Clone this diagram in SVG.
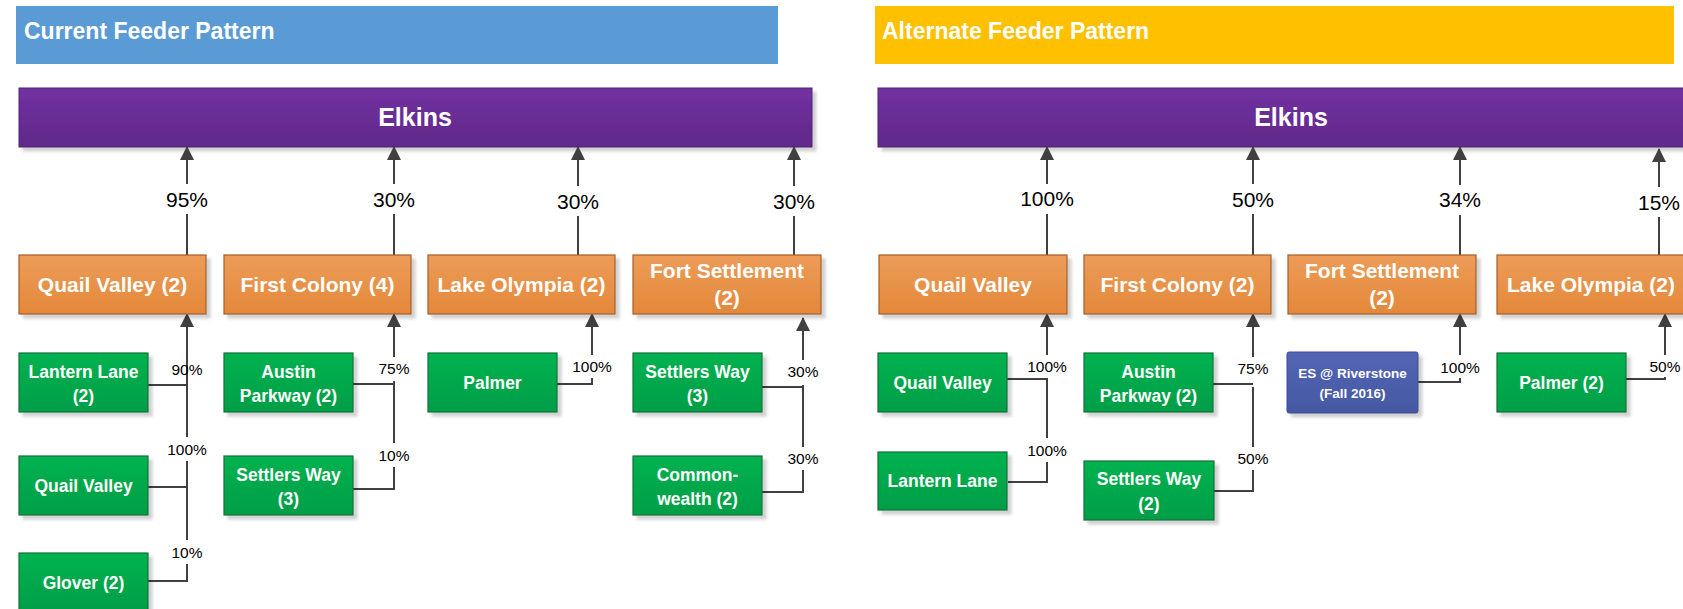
<svg xmlns="http://www.w3.org/2000/svg" width="1683" height="609" viewBox="0 0 1683 609">
<defs>
<linearGradient id="gP" x1="0" y1="0" x2="0" y2="1"><stop offset="0" stop-color="#7131A1"/><stop offset="1" stop-color="#61298A"/></linearGradient>
<linearGradient id="gO" x1="0" y1="0" x2="0" y2="1"><stop offset="0" stop-color="#EC9C58"/><stop offset="1" stop-color="#E4883A"/></linearGradient>
<linearGradient id="gG" x1="0" y1="0" x2="0" y2="1"><stop offset="0" stop-color="#00B24F"/><stop offset="1" stop-color="#009E47"/></linearGradient>
<linearGradient id="gB" x1="0" y1="0" x2="0" y2="1"><stop offset="0" stop-color="#5465B5"/><stop offset="1" stop-color="#4558A2"/></linearGradient>
<filter id="sh" x="-10%" y="-10%" width="130%" height="140%"><feDropShadow dx="4" dy="4" stdDeviation="1.5" flood-color="#000" flood-opacity="0.18"/></filter>
<marker id="arr" viewBox="0 0 14 14" markerWidth="14" markerHeight="14" refX="13" refY="7" orient="auto" markerUnits="userSpaceOnUse"><path d="M0,0 L14,7 L0,14 Z" fill="#404040"/></marker>
</defs>
<style>
.hdr{font-family:"Liberation Sans",Arial,sans-serif;font-weight:bold;font-size:23px;fill:#fff}
.elk{fill:url(#gP);stroke:#4E2274;stroke-width:1;filter:url(#sh)}
.elkt{font-family:"Liberation Sans",Arial,sans-serif;font-weight:bold;font-size:25px;fill:#fff;text-anchor:middle}
.or{fill:url(#gO);stroke:#A45E2A;stroke-width:1.2;filter:url(#sh)}
.ort{font-family:"Liberation Sans",Arial,sans-serif;font-weight:bold;font-size:21px;fill:#fff;text-anchor:middle}
.gr{fill:url(#gG);stroke:#17703A;stroke-width:1.2;filter:url(#sh)}
.bl{fill:url(#gB);stroke:#3A4C92;stroke-width:1;filter:url(#sh)}
.grt{font-family:"Liberation Sans",Arial,sans-serif;font-weight:bold;font-size:17.5px;fill:#fff;text-anchor:middle}
.blt{font-family:"Liberation Sans",Arial,sans-serif;font-weight:bold;font-size:13.5px;fill:#fff;text-anchor:middle}
.ln{fill:none;stroke:#404040;stroke-width:2}
.pl{font-family:"Liberation Sans",Arial,sans-serif;font-size:21px;fill:#000;text-anchor:middle}
.ps{font-family:"Liberation Sans",Arial,sans-serif;font-size:15.5px;fill:#000;text-anchor:middle}
</style>
<rect width="1683" height="609" fill="#fff"/>

<g id="header-current"><rect x="16" y="6" width="762" height="58" fill="#5B9BD5"/><text class="hdr" x="24" y="39">Current Feeder Pattern</text></g>
<g id="header-alternate"><rect x="875" y="6" width="799" height="58" fill="#FFC000"/><text class="hdr" x="882" y="39">Alternate Feeder Pattern</text></g>

<g id="elkins-current"><rect class="elk" x="19" y="88" width="793" height="59"/><text class="elkt" x="415" y="126">Elkins</text></g>
<g id="elkins-alternate"><rect class="elk" x="878" y="88" width="826" height="59"/><text class="elkt" x="1291" y="126">Elkins</text></g>

<g id="connectors">
<path class="ln" d="M187 255V214M187 184V147" marker-end="url(#arr)"/>
<path class="ln" d="M394 255V214M394 184V147" marker-end="url(#arr)"/>
<path class="ln" d="M578 255V216M578 186V147" marker-end="url(#arr)"/>
<path class="ln" d="M794 255V216M794 186V147" marker-end="url(#arr)"/>
<path class="ln" d="M148 581H187V564M187 540V461M187 437V314" marker-end="url(#arr)"/>
<path class="ln" d="M148 385H187M148 487H187"/>
<path class="ln" d="M353 384H394M353 489H394V467M394 443V381M394 357V314" marker-end="url(#arr)"/>
<path class="ln" d="M557 384H592V378M592 355V314" marker-end="url(#arr)"/>
<path class="ln" d="M761 387H803M761 492H803V470M803 447V385M803 360V318" marker-end="url(#arr)"/>

<path class="ln" d="M1047 255V214M1047 184V147" marker-end="url(#arr)"/>
<path class="ln" d="M1253 255V214M1253 184V147" marker-end="url(#arr)"/>
<path class="ln" d="M1460 255V215M1460 185V147" marker-end="url(#arr)"/>
<path class="ln" d="M1659 255V217M1659 187V149" marker-end="url(#arr)"/>
<path class="ln" d="M1008 482H1047V462M1047 438V379H1007M1047 355V314" marker-end="url(#arr)"/>
<path class="ln" d="M1214 491H1253V470M1253 447V387M1213 384H1253M1253 357V314" marker-end="url(#arr)"/>
<path class="ln" d="M1418 382H1460V378M1460 355V314" marker-end="url(#arr)"/>
<path class="ln" d="M1626 379H1665V377M1665 355V314" marker-end="url(#arr)"/>

<text class="pl" x="187" y="207">95%</text>
<text class="pl" x="394" y="207">30%</text>
<text class="pl" x="578" y="209">30%</text>
<text class="pl" x="794" y="209">30%</text>
<text class="ps" x="187" y="375">90%</text>
<text class="ps" x="187" y="455">100%</text>
<text class="ps" x="187" y="558">10%</text>
<text class="ps" x="394" y="374">75%</text>
<text class="ps" x="394" y="461">10%</text>
<text class="ps" x="592" y="372">100%</text>
<text class="ps" x="803" y="377">30%</text>
<text class="ps" x="803" y="464">30%</text>

<text class="pl" x="1047" y="206">100%</text>
<text class="pl" x="1253" y="207">50%</text>
<text class="pl" x="1460" y="207">34%</text>
<text class="pl" x="1659" y="210">15%</text>
<text class="ps" x="1047" y="372">100%</text>
<text class="ps" x="1047" y="456">100%</text>
<text class="ps" x="1253" y="374">75%</text>
<text class="ps" x="1253" y="464">50%</text>
<text class="ps" x="1460" y="373">100%</text>
<text class="ps" x="1665" y="372">50%</text>
</g>

<g id="c-quail-valley-2"><rect class="or" x="19" y="255" width="187" height="59"/><text class="ort" x="112.5" y="292">Quail Valley (2)</text></g>
<g id="c-first-colony-4"><rect class="or" x="224" y="255" width="187" height="59"/><text class="ort" x="317.5" y="292">First Colony (4)</text></g>
<g id="c-lake-olympia-2"><rect class="or" x="428" y="255" width="187" height="59"/><text class="ort" x="521.5" y="292">Lake Olympia (2)</text></g>
<g id="c-fort-settlement-2"><rect class="or" x="633" y="255" width="188" height="59"/><text class="ort" x="727" y="278">Fort Settlement</text><text class="ort" x="727" y="305">(2)</text></g>

<g id="c-lantern-lane-2"><rect class="gr" x="19" y="353" width="129" height="59"/><text class="grt" x="83.5" y="378">Lantern Lane</text><text class="grt" x="83.5" y="402">(2)</text></g>
<g id="c-quail-valley"><rect class="gr" x="19" y="456" width="129" height="59"/><text class="grt" x="83.5" y="492">Quail Valley</text></g>
<g id="c-glover-2"><rect class="gr" x="19" y="553" width="129" height="58"/><text class="grt" x="83.5" y="589">Glover (2)</text></g>
<g id="c-austin-parkway-2"><rect class="gr" x="224" y="353" width="129" height="59"/><text class="grt" x="288.5" y="378">Austin</text><text class="grt" x="288.5" y="402">Parkway (2)</text></g>
<g id="c-settlers-way-3a"><rect class="gr" x="224" y="456" width="129" height="59"/><text class="grt" x="288.5" y="481">Settlers Way</text><text class="grt" x="288.5" y="505">(3)</text></g>
<g id="c-palmer"><rect class="gr" x="428" y="353" width="129" height="59"/><text class="grt" x="492.5" y="389">Palmer</text></g>
<g id="c-settlers-way-3b"><rect class="gr" x="633" y="353" width="129" height="59"/><text class="grt" x="697.5" y="378">Settlers Way</text><text class="grt" x="697.5" y="402">(3)</text></g>
<g id="c-commonwealth-2"><rect class="gr" x="633" y="456" width="129" height="59"/><text class="grt" x="697.5" y="481">Common-</text><text class="grt" x="697.5" y="505">wealth (2)</text></g>

<g id="a-quail-valley"><rect class="or" x="879" y="255" width="188" height="59"/><text class="ort" x="973" y="292">Quail Valley</text></g>
<g id="a-first-colony-2"><rect class="or" x="1084" y="255" width="187" height="59"/><text class="ort" x="1177.5" y="292">First Colony (2)</text></g>
<g id="a-fort-settlement-2"><rect class="or" x="1288" y="255" width="188" height="59"/><text class="ort" x="1382" y="278">Fort Settlement</text><text class="ort" x="1382" y="305">(2)</text></g>
<g id="a-lake-olympia-2"><rect class="or" x="1497" y="255" width="188" height="59"/><text class="ort" x="1591" y="292">Lake Olympia (2)</text></g>

<g id="a-quail-valley-g"><rect class="gr" x="878" y="353" width="129" height="59"/><text class="grt" x="942.5" y="389">Quail Valley</text></g>
<g id="a-lantern-lane"><rect class="gr" x="878" y="452" width="129" height="58"/><text class="grt" x="942.5" y="487">Lantern Lane</text></g>
<g id="a-austin-parkway-2"><rect class="gr" x="1084" y="353" width="129" height="59"/><text class="grt" x="1148.5" y="378">Austin</text><text class="grt" x="1148.5" y="402">Parkway (2)</text></g>
<g id="a-settlers-way-2"><rect class="gr" x="1084" y="461" width="130" height="59"/><text class="grt" x="1149" y="485">Settlers Way</text><text class="grt" x="1149" y="510">(2)</text></g>
<g id="a-es-riverstone"><rect class="bl" x="1287" y="352" width="131" height="61" rx="2"/><text class="blt" x="1352.5" y="378">ES @ Riverstone</text><text class="blt" x="1352.5" y="398">(Fall 2016)</text></g>
<g id="a-palmer-2"><rect class="gr" x="1497" y="353" width="129" height="59"/><text class="grt" x="1561.5" y="389">Palmer (2)</text></g>
</svg>
